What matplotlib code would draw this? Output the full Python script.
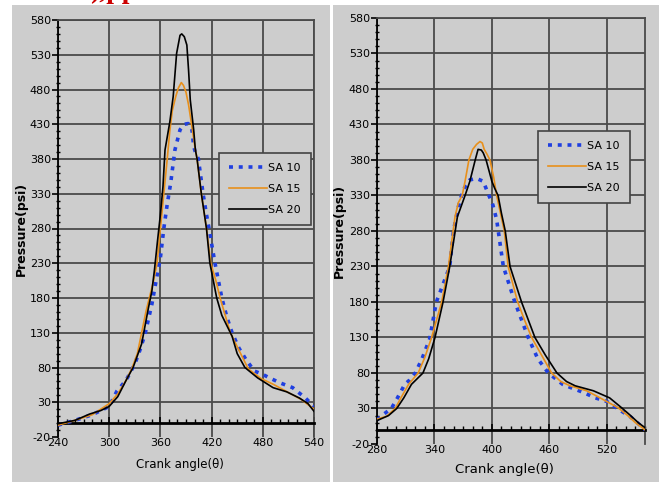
import numpy as np
import matplotlib
matplotlib.use('Agg')
import matplotlib.pyplot as plt
from matplotlib.patches import Rectangle
from matplotlib.ticker import MultipleLocator

plt.rcParams['font.family'] = ['Liberation Sans Narrow', 'DejaVu Sans']
plt.rcParams['axes.unicode_minus'] = False

labels = ['SA 10', 'SA 15', 'SA 20']

# left panel
l_x10 = [240, 260, 280, 300, 309, 320, 330, 336, 342, 350, 355, 360, 364, 368, 372, 377, 383, 388,
         392.6, 397, 399, 401, 404.5, 410, 414, 417, 420, 424, 428, 432, 438, 444, 452, 460, 470,
         480, 488, 500, 515, 530, 540]
l_y10 = [-3, 4, 12, 24, 46, 62, 85, 105, 128, 171, 205, 238, 280, 315, 345, 393, 422, 430,
         431, 422, 398, 390, 380, 330, 300, 280, 258, 230, 205, 180, 152, 130, 108, 92, 75,
         70, 65, 58, 51, 36, 24]
l_x15 = [240, 260, 280, 300, 310, 320, 327, 333, 338, 343, 347, 352, 356, 360, 364, 368, 371, 374,
         378, 381, 384.5, 387, 390, 393, 397, 401, 403, 408, 414, 419, 425, 430, 436, 442, 452,
         463, 478, 492, 510, 525, 540]
l_y15 = [-3, 4, 12, 28, 42, 62, 80, 100, 130, 160, 180, 205, 230, 280, 330, 380, 420, 450,
         470, 482, 490, 486, 476, 458, 426, 393, 380, 330, 280, 230, 205, 180, 155, 130, 105,
         78, 64, 56, 44, 34, 20]
l_x20 = [240, 260, 277, 290, 300, 310, 320, 328, 338, 346, 350, 353, 356.6, 360, 363, 365.4, 371,
         375, 379, 383, 385, 388, 391, 393, 395, 399, 401, 403, 408, 414, 418, 422, 426, 432,
         438, 444, 450, 459, 474, 492, 508, 523, 533, 540]
l_y20 = [-1, 4, 13, 18, 24, 38, 62, 80, 114, 166, 190, 220, 262, 300, 340, 393, 433,
         470, 532, 558, 560, 556, 544, 508, 465, 422, 393, 380, 330, 280, 230, 205, 180, 155,
         140, 125, 100, 80, 65, 51, 45, 36, 28, 17]

# right panel
r_x10 = [280, 287, 295, 301, 309, 314, 320, 327, 335, 342, 349, 356, 360, 365, 370, 377, 384, 391,
         396, 401, 405, 408.6, 412, 418, 424, 431, 438, 448, 459, 474, 485, 495, 508, 520, 530,
         545, 552, 560]
r_y10 = [14, 22, 30, 44, 64, 70, 80, 100, 128, 180, 205, 230, 281, 314, 338, 352, 354, 350,
         333, 317, 296, 262, 230, 205, 180, 155, 130, 100, 80, 64, 58, 53, 45, 40, 31,
         18, 10, 0]
r_x15 = [280, 290, 299, 305, 313, 323, 330, 337, 347.6, 354.6, 361.5, 365, 369, 372, 376, 380, 384,
         387.6, 390, 392, 395, 398, 402, 405, 409, 413, 417, 422, 427, 434, 441.6, 452, 462.5,
         472, 481.7, 499, 513, 532, 542, 550, 560]
r_y15 = [15, 19, 30, 45, 64, 80, 102, 130, 180, 230, 300, 320, 330, 350, 380, 395, 402,
         406, 404, 395, 388, 380, 355, 330, 305, 280, 230, 205, 180, 155, 130, 105, 80,
         68, 62, 55, 45, 31, 20, 10, 0]
r_x20 = [280, 292, 300.6, 308, 316, 328, 334, 340.6, 349, 356, 364, 372, 377, 382.6, 385.6, 389, 391,
         394, 397, 400, 403, 406.5, 410, 414, 419, 425, 431, 438, 445, 456, 468, 478, 487, 506,
         523, 535.6, 545, 553, 560]
r_y20 = [13, 20, 30, 45, 64, 80, 100, 130, 180, 230, 300, 330, 350, 380, 395, 394, 390,
         380, 365, 350, 340, 330, 305, 280, 230, 205, 180, 155, 130, 105, 80, 68, 62, 55,
         45, 31, 20, 10, 3]

y_ticks = np.arange(-20, 581, 50)

blue = '#1f3fe0'
orange = '#e8901c'
grid_c = '#4a4a4a'
bg = '#cdcdcd'

fig = plt.figure(figsize=(6.59, 4.82), dpi=100)
W, H = 659.0, 482.0
fig.patches.append(Rectangle((12 / W, 0), 318 / W, 1 - 5 / H, transform=fig.transFigure,
                             facecolor=bg, edgecolor='none', zorder=-10))
fig.patches.append(Rectangle((333 / W, 0), 326 / W, 1 - 5 / H, transform=fig.transFigure,
                             facecolor=bg, edgecolor='none', zorder=-10))
# red caption of the page above, mostly cut off
fig.text(90 / W, 1 + 2 / H, '),pp', color='#cc0000', fontsize=20, fontweight='bold',
         family='Liberation Serif', va='baseline', ha='left')


def panel(rect, xlim, xticks, data, leg_anchor, xlab_pos, ylab_pos, xpad, xlab_size):
    ax = fig.add_axes(rect)
    ax.set_zorder(2)
    ax.set_facecolor(bg)
    (x10, y10), (x15, y15), (x20, y20) = data
    ax.plot(x10, y10, color=blue, lw=2.6, ls=(0, (1.1, 1.6)), label=labels[0], zorder=3)
    ax.plot(x15, y15, color=orange, lw=1.2, label=labels[1], zorder=4)
    ax.plot(x20, y20, color='black', lw=1.2, label=labels[2], zorder=5)
    ax.set_xlim(*xlim)
    ax.set_ylim(-20, 580)
    ax.set_xticks(xticks)
    ax.set_yticks(y_ticks)
    ax.xaxis.set_minor_locator(MultipleLocator(10))
    ax.yaxis.set_minor_locator(MultipleLocator(10))
    ax.grid(True, which='major', color=grid_c, lw=1.3, zorder=1)
    ax.get_ygridlines()[0].set_visible(False)
    ax.set_axisbelow(True)
    ax.spines['bottom'].set_position(('data', 0))
    ax.spines['bottom'].set_linewidth(2.0)
    ax.spines['left'].set_linewidth(1.3)
    for s in ('top', 'right'):
        ax.spines[s].set_color(grid_c)
        ax.spines[s].set_linewidth(1.3)
    ax.tick_params(axis='y', which='major', direction='out', length=4, width=1.2,
                   labelsize=8, pad=1)
    ax.tick_params(axis='y', which='minor', direction='inout', length=3, width=1)
    ax.tick_params(axis='x', which='major', direction='in', length=4, width=1.2,
                   labelsize=8, pad=xpad)
    ax.tick_params(axis='x', which='minor', direction='in', length=3, width=1)
    ax.set_ylabel('Pressure(psi)', fontsize=9, fontweight='bold')
    ax.yaxis.set_label_coords(*ylab_pos)
    ax.set_xlabel('Crank angle(θ)', fontsize=xlab_size)
    ax.xaxis.set_label_coords(*xlab_pos)
    leg = ax.legend(loc='lower left', bbox_to_anchor=leg_anchor, borderaxespad=0,
                    fontsize=8, handlelength=3.4, labelspacing=1.0, handletextpad=0.1,
                    fancybox=False, framealpha=1, facecolor=bg, edgecolor='#444444',
                    borderpad=0.9)
    leg.get_frame().set_linewidth(1.2)
    return ax


panel([58 / W, 1 - 437 / H, 256 / W, 417 / H], (240, 540), np.arange(240, 541, 60),
      [(l_x10, l_y10), (l_x15, l_y15), (l_x20, l_y20)], (0.629, 0.508),
      (0.476, -0.05), (-0.117, 0.5), 11, 8.5)
panel([377 / W, 1 - 444 / H, 268 / W, 426 / H], (280, 560), np.arange(280, 561, 60),
      [(r_x10, r_y10), (r_x15, r_y15), (r_x20, r_y20)], (0.601, 0.566),
      (0.474, -0.045), (-0.116, 0.5), 11, 9.5)

fig.savefig('out.png', dpi=100)
